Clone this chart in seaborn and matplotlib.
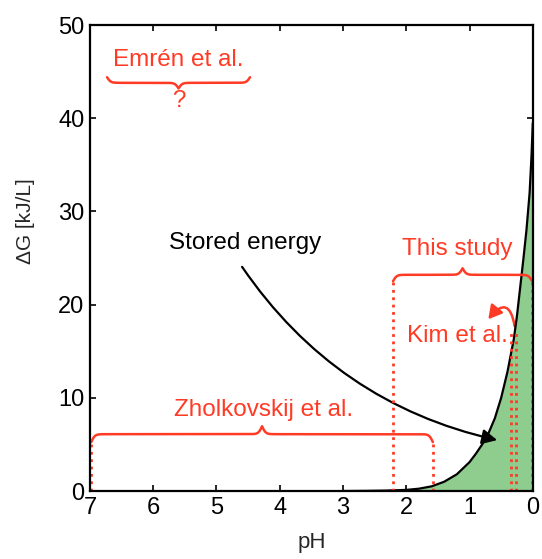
import numpy as np
import pandas as pd
import matplotlib.pyplot as plt
import seaborn as sns
from matplotlib.patches import FancyArrowPatch

# stored energy curve
ph = [3.0, 2.6, 2.3, 2.0, 1.8, 1.6, 1.4, 1.2, 1.0, 0.9, 0.8, 0.7, 0.6, 0.5,
      0.4, 0.3, 0.25, 0.2, 0.15, 0.1, 0.05, 0.02, 0.0]
dg = [0.0, 0.02, 0.05, 0.12, 0.25, 0.5, 1.0, 1.8, 3.1, 4.0, 5.0, 6.2, 7.8, 10.0,
      12.8, 16.3, 18.8, 21.8, 24.8, 28.0, 32.0, 36.0, 39.5]

# literature ranges (pH)
zholk_range = (6.98, 1.58)
study_range = (2.21, 0.01)
kim_lines = [0.34, 0.27]
emren_range = (6.73, 4.47)

RED = '#ff3b26'
GREEN = '#8fcd8f'


def brace(ax, x0, x1, y, amp, up=True, beta=35.0):
    # sigmoid curly brace between x0 and x1 (data units)
    span = abs(x1 - x0)
    t = np.linspace(0, span / 2, 300)
    half = 1 / (1 + np.exp(-beta * t)) + 1 / (1 + np.exp(-beta * (t - span / 2)))
    h = np.concatenate((half, half[-2::-1])) - 1.0
    xs = np.linspace(x0, x1, len(h))
    sign = 1 if up else -1
    ax.plot(xs, y + sign * h * amp, color=RED, lw=1.8, solid_capstyle='round')


def main():
    sns.set_theme(style="ticks")
    plt.rcParams['font.family'] = ['Liberation Sans', 'DejaVu Sans']

    df = pd.DataFrame({"pH": ph, "dG": dg})

    fig = plt.figure(figsize=(5.42, 5.59), dpi=100)
    ax = fig.add_axes([0.166, 0.1216, 0.817, 0.8336])

    ax.fill_between(df["pH"], df["dG"], 0, color=GREEN, lw=0)
    sns.lineplot(data=df, x="pH", y="dG", ax=ax, color='black', lw=1.6)

    # dotted range markers
    ax.vlines(list(zholk_range), 0, 5.3, colors=RED, linestyles=':', lw=2)
    ax.vlines(list(study_range), 0, 22.5, colors=RED, linestyles=':', lw=2)
    ax.vlines(kim_lines, 0, 17.3, colors=RED, linestyles=':', lw=2)

    # braces
    brace(ax, *zholk_range, 6.1, 1.7, up=True)
    brace(ax, *study_range, 23.2, 1.4, up=True)
    brace(ax, *emren_range, 43.8, 1.2, up=False)

    fs = 17.5
    ax.text(4.25, 8.7, "Zholkovskij et al.", color=RED, fontsize=fs, ha='center', va='center')
    ax.text(1.19, 26.0, "This study", color=RED, fontsize=fs, ha='center', va='center')
    ax.text(1.19, 16.6, "Kim et al.", color=RED, fontsize=fs, ha='center', va='center')
    ax.text(5.6, 46.3, "Emrén et al.", color=RED, fontsize=fs, ha='center', va='center')
    ax.text(5.6, 41.9, "?", color=RED, fontsize=fs, ha='center', va='center')
    ax.text(4.55, 26.6, "Stored energy", color='black', fontsize=fs, ha='center', va='center')

    # arrows
    ax.add_patch(FancyArrowPatch((4.62, 24.3), (0.52, 5.4), connectionstyle="arc3,rad=0.2",
                                 arrowstyle='-|>,head_length=9,head_width=4.5', color='black', lw=1.6))
    ax.add_patch(FancyArrowPatch((0.28, 17.4), (0.73, 18.2), connectionstyle="arc3,rad=1.2",
                                 arrowstyle='-|>,head_length=8,head_width=4.5', color=RED, lw=1.8))

    ax.set_xlim(7, 0)
    ax.set_ylim(0, 50)
    ax.set_xticks(range(7, -1, -1))
    ax.set_yticks(range(0, 51, 10))
    ax.tick_params(direction='in', length=4, width=1.2, labelsize=17, colors='black',
                   top=True, right=True, pad=4)
    for s in ax.spines.values():
        s.set_visible(True)
        s.set_linewidth(1.6)
        s.set_color('black')
    ax.set_xlabel("pH", fontsize=16, labelpad=10)
    ax.set_ylabel("ΔG [kJ/L]", fontsize=15, labelpad=12)
    ax.yaxis.set_label_coords(-0.125, 0.58)

    fig.savefig("out.png", dpi=100, facecolor='white')


if __name__ == "__main__":
    main()
